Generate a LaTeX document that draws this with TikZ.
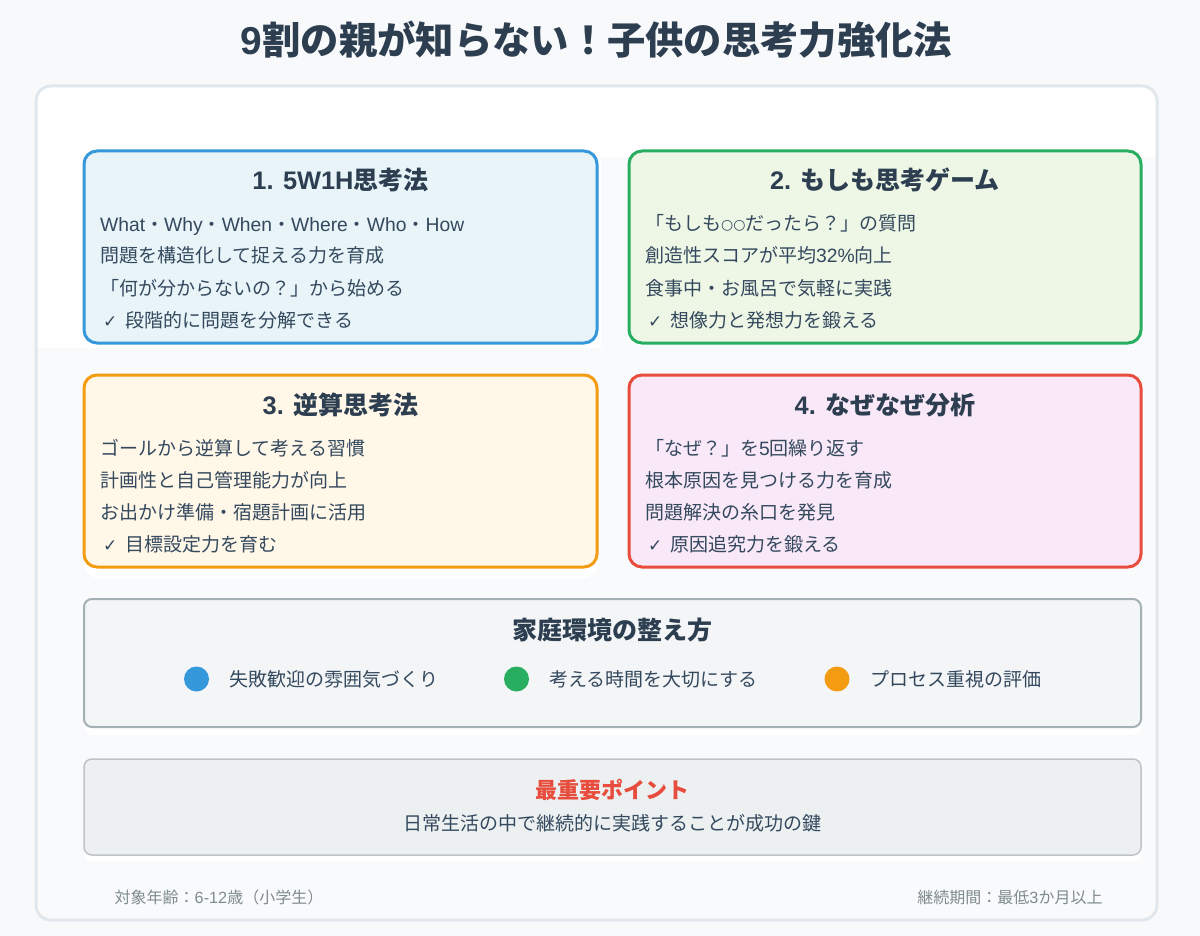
\documentclass[tikz,border=0pt]{standalone}
\usepackage{fontspec}
\setmainfont{Noto Sans CJK JP}
\newfontfamily\latfont[Scale=1.015]{Liberation Sans}
\newfontfamily\symfont{DejaVu Sans}
\newcommand{\lat}[1]{{\latfont #1}}
\newcommand{\chk}{{\symfont\hspace{3pt}\fontsize{17}{17}\selectfont ✓\hspace{8pt}}}
\newcommand{\smallo}{\raisebox{1.5pt}{\symfont\fontsize{14}{14}\selectfont ○○}}
\definecolor{pagebg}{HTML}{F8F9FA}
\definecolor{panelbg}{HTML}{F9FAFC}
\definecolor{panelline}{HTML}{E1E8ED}
\definecolor{ink}{HTML}{2C3E50}
\definecolor{bodyink}{HTML}{34495E}
\definecolor{footink}{HTML}{7F8C8D}
\definecolor{homeline}{HTML}{A4B0B4}
\definecolor{keyline}{HTML}{BDC3C7}
\definecolor{cblue}{HTML}{3498DB}
\definecolor{cgreen}{HTML}{27AE60}
\definecolor{corange}{HTML}{F39C12}
\definecolor{cred}{HTML}{E74C3C}
\definecolor{fillA}{RGB}{232,244,248}
\definecolor{fillB}{RGB}{238,247,230}
\definecolor{fillC}{RGB}{255,247,232}
\definecolor{fillD}{RGB}{249,232,248}
\definecolor{fillHome}{RGB}{243,245,246}
\definecolor{fillKey}{RGB}{236,240,241}
\tikzset{
  cardbox/.style={draw=#1,line width=3pt,rounded corners=13pt},
  cardtitle/.style={anchor=base,text=ink,font=\fontsize{25}{30}\selectfont\bfseries},
  bodyline/.style={anchor=base west,inner sep=0pt,text=bodyink,font=\fontsize{19}{23}\selectfont},
  centerline/.style={anchor=base,inner sep=0pt,text=bodyink,font=\fontsize{19}{23}\selectfont},
  footline/.style={anchor=base,inner sep=0pt,text=footink,font=\fontsize{16}{20}\selectfont},
  dotmark/.style={circle,inner sep=0pt,minimum size=25pt,fill=#1},
}
\begin{document}
\begin{tikzpicture}[x=1pt,y=-1pt]
   \useasboundingbox (0,0) rectangle (1200,936);
   \fill[pagebg] (0,0) rectangle (1200,936);
   % panel
   \begin{scope}
     \clip[rounded corners=15pt] (36,86) rectangle (1157,920);
     \fill[panelbg] (36,86) rectangle (1157,920);
     \fill[white] (36,86) rectangle (1157,157);
     \fill[white] (36,157) rectangle (601,348);
     \fill[white,rounded corners=13pt] (84,500) rectangle (597,578);
     \fill[white,rounded corners=8pt] (84,700) rectangle (1141,735);
     \fill[white,rounded corners=8pt] (84,830) rectangle (1141,862);
   \end{scope}
   \draw[panelline,line width=3pt,rounded corners=15pt] (36,86) rectangle (1157,920);
   \node[cardtitle,font=\fontsize{38.3}{44}\selectfont\bfseries] (maintitle) at (596.5,55) {\lat{\bfseries 9}割の親が知らない！子供の思考力強化法};
   % cards
   \filldraw[cardbox=cblue,fill=fillA] (84,151) rectangle (597,343);
   \filldraw[cardbox=cgreen,fill=fillB] (629,151) rectangle (1141,343);
   \filldraw[cardbox=corange,fill=fillC] (84,375) rectangle (597,567);
   \filldraw[cardbox=cred,fill=fillD] (629,375) rectangle (1141,567);
   \node[cardtitle] (titleA) at (340.5,190) {\lat{\bfseries 1. 5W1H}思考法};
   \node[bodyline] (lineAa) at (100,231.5) {\lat{What}・\lat{Why}・\lat{When}・\lat{Where}・\lat{Who}・\lat{How}};
   \node[bodyline] (lineAb) at (100,263) {問題を構造化して捉える力を育成};
   \node[bodyline] (lineAc) at (100,295) {「何が分からないの？」から始める};
   \node[bodyline] (lineAd) at (100,327) {\chk 段階的に問題を分解できる};
   \node[cardtitle] (titleB) at (885,190) {\lat{\bfseries 2. }もしも思考ゲーム};
   \node[bodyline] (lineBa) at (645,231) {「もしも\smallo だったら？」の質問};
   \node[bodyline] (lineBb) at (645,263) {創造性スコアが平均\lat{32\%}向上};
   \node[bodyline] (lineBc) at (645,295) {食事中・お風呂で気軽に実践};
   \node[bodyline] (lineBd) at (645,327) {\chk 想像力と発想力を鍛える};
   \node[cardtitle] (titleC) at (340.5,414) {\lat{\bfseries 3. }逆算思考法};
   \node[bodyline] (lineCa) at (100,455) {ゴールから逆算して考える習慣};
   \node[bodyline] (lineCb) at (100,487) {計画性と自己管理能力が向上};
   \node[bodyline] (lineCc) at (100,519) {お出かけ準備・宿題計画に活用};
   \node[bodyline] (lineCd) at (100,551) {\chk 目標設定力を育む};
   \node[cardtitle] (titleD) at (885,414) {\lat{\bfseries 4. }なぜなぜ分析};
   \node[bodyline] (lineDa) at (645,455) {「なぜ？」を\lat{5}回繰り返す};
   \node[bodyline] (lineDb) at (645,487) {根本原因を見つける力を育成};
   \node[bodyline] (lineDc) at (645,519) {問題解決の糸口を発見};
   \node[bodyline] (lineDd) at (645,551) {\chk 原因追究力を鍛える};
   % home
   \filldraw[draw=homeline,line width=2pt,fill=fillHome,rounded corners=8pt] (84,599) rectangle (1141,727);
   \node[cardtitle] (hometitle) at (612.5,639) {家庭環境の整え方};
   \node[dotmark=cblue] (dotA) at (196.5,679) {};
   \node[dotmark=cgreen] (dotB) at (516.5,679) {};
   \node[dotmark=corange] (dotC) at (837,679) {};
   \node[bodyline] (homeA) at (229,686) {失敗歓迎の雰囲気づくり};
   \node[bodyline] (homeB) at (549,686) {考える時間を大切にする};
   \node[bodyline] (homeC) at (870,686) {プロセス重視の評価};
   % key point
   \filldraw[draw=keyline,line width=1.5pt,fill=fillKey,rounded corners=8pt] (84,759) rectangle (1141,855);
   \node[cardtitle,text=cred,font=\fontsize{22}{26}\selectfont\bfseries] (keytitle) at (612,798) {最重要ポイント};
   \node[centerline] (keyline) at (612.5,830) {日常生活の中で継続的に実践することが成功の鍵};
   % foot
   \node[footline] (footA) at (219,903) {対象年齢：\lat{6-12}歳（小学生）};
   \node[footline] (footB) at (1010,903) {継続期間：最低\lat{3}か月以上};
\end{tikzpicture}
\end{document}
